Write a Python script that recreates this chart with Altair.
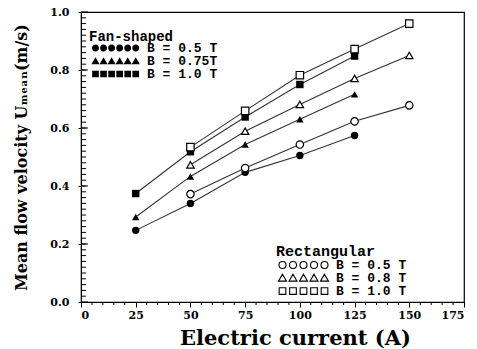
import altair as alt
import pandas as pd

current_fan = [25, 50, 75, 100, 125]
current_rect = [50, 75, 100, 125, 150]
fan_labels = ["B = 0.5 T", "B = 0.75T", "B = 1.0 T"]
rect_labels = ["B = 0.5 T", "B = 0.8 T", "B = 1.0 T"]
fan_05 = [0.247, 0.340, 0.447, 0.505, 0.574]
fan_075 = [0.293, 0.433, 0.543, 0.630, 0.716]
fan_10 = [0.374, 0.518, 0.638, 0.750, 0.848]
rect_05 = [0.372, 0.462, 0.543, 0.623, 0.678]
rect_08 = [0.473, 0.589, 0.681, 0.771, 0.850]
rect_10 = [0.534, 0.659, 0.782, 0.872, 0.960]
x_ticks = [0, 25, 50, 75, 100, 125, 150, 175]
y_ticks = [0.0, 0.2, 0.4, 0.6, 0.8, 1.0]
x_minor = [v for v in range(0, 180, 5) if v % 25 != 0]
y_minor = [i / 50 for i in range(1, 50)]

fan_df = pd.DataFrame(
    [(c, v, lab) for lab, vals in zip(fan_labels, [fan_05, fan_075, fan_10])
     for c, v in zip(current_fan, vals)],
    columns=["current", "velocity", "fan"],
)
rect_df = pd.DataFrame(
    [(c, v, lab) for lab, vals in zip(rect_labels, [rect_05, rect_08, rect_10])
     for c, v in zip(current_rect, vals)],
    columns=["current", "velocity", "rect"],
)
xminor_df = pd.DataFrame({"current": x_minor})
yminor_df = pd.DataFrame({"velocity": y_minor})
ymajor_df = pd.DataFrame({"velocity": y_ticks})

W, H = 383, 290


def row_path(kind, n, step):
    parts = []
    for i in range(n):
        cx = i * step
        if kind == "circle":
            parts.append(f"M{cx-1},0 a1,1 0 1,0 2,0 a1,1 0 1,0 -2,0 Z")
        elif kind == "triangle":
            parts.append(f"M{cx},-1.1 L{cx+1.15},0.9 L{cx-1.15},0.9 Z")
        else:
            parts.append(f"M{cx-0.95},-0.95 L{cx+0.95},-0.95 L{cx+0.95},0.95 L{cx-0.95},0.95 Z")
    return " ".join(parts)


fan_rows = [row_path("circle", 6, 2.3), row_path("triangle", 6, 2.3), row_path("square", 6, 2.3)]
rect_rows = [row_path("circle", 5, 3.0), row_path("triangle", 5, 3.0), row_path("square", 5, 3.0)]

xscale = alt.Scale(domain=[0, 175], nice=False, zero=False)
yscale = alt.Scale(domain=[0, 1.0], nice=False, zero=False)
SERIF = "DejaVu Serif"
MONO = "Liberation Mono"

x_axis = alt.Axis(
    values=x_ticks, orient="bottom", tickSize=5, tickColor="black", domainColor="black",
    labelFont=SERIF, labelFontWeight="bold", labelFontSize=11, labelColor="black",
    labelPadding=2, grid=False, title="Electric current (A)", titleFont=SERIF,
    titleFontSize=21, titleFontWeight="bold", titleColor="black", titlePadding=7,
    titleX=214)
y_axis = alt.Axis(
    values=y_ticks, format=".1f", orient="left", tickSize=3, tickColor="black",
    domainColor="black", labelFont=SERIF, labelFontWeight="bold", labelFontSize=11,
    labelColor="black", labelPadding=9, grid=False,
    title="Mean flow velocity Uₘₑₐₙ(m/s)", titleFont=SERIF, titleFontSize=16,
    titleFontWeight="bold", titleColor="black", titlePadding=20)
X = alt.X("current:Q", scale=xscale, axis=x_axis)
Y = alt.Y("velocity:Q", scale=yscale, axis=y_axis)

x_minor_ticks = alt.Chart(xminor_df).mark_rule(color="black", strokeWidth=1).encode(
    x=X, y=alt.value(H), y2=alt.value(H + 3))
y_minor_ticks = alt.Chart(yminor_df).mark_rule(color="black", strokeWidth=1).encode(
    y=Y, x=alt.value(0), x2=alt.value(5))
y_major_ticks = alt.Chart(ymajor_df).mark_rule(color="black", strokeWidth=1).encode(
    y=Y, x=alt.value(0), x2=alt.value(7))

fan_lines = alt.Chart(fan_df).mark_line(color="#333", strokeWidth=1.1).encode(
    x=X, y=Y, detail="fan:N")
rect_lines = alt.Chart(rect_df).mark_line(color="#333", strokeWidth=1.1).encode(
    x=X, y=Y, detail="rect:N")

fan_pts = alt.Chart(fan_df).mark_point(filled=True, color="black", size=55, opacity=1).encode(
    x=X, y=Y,
    shape=alt.Shape("fan:N", scale=alt.Scale(domain=fan_labels, range=["circle", "triangle-up", "square"]), legend=None))
rect_pts = alt.Chart(rect_df).mark_point(filled=True, fill="white", stroke="black", strokeWidth=1.2, size=55, opacity=1).encode(
    x=X, y=Y,
    shape=alt.Shape("rect:N", scale=alt.Scale(domain=rect_labels, range=["circle", "triangle-up", "square"]), legend=None))

fan_leg = alt.Chart(fan_df).transform_filter("datum.velocity < 0").mark_point(
    filled=True, color="black", opacity=1).encode(
    x=X, y=Y,
    shape=alt.Shape("fan:N", scale=alt.Scale(domain=fan_labels, range=fan_rows), legend=alt.Legend(
        title="Fan-shaped", orient="none", legendX=8, legendY=18, symbolSize=49,
        symbolFillColor="black", symbolStrokeColor="black", symbolOpacity=1,
        labelFont=MONO, labelFontWeight="bold", labelFontSize=13, labelColor="black",
        labelOffset=45, titleFont=MONO, titleFontWeight="bold", titleFontSize=14,
        titleColor="black", rowPadding=0, clipHeight=12, padding=0, titlePadding=-2)))
rect_leg = alt.Chart(rect_df).transform_filter("datum.velocity < 0").mark_point(
    filled=False, color="black", strokeWidth=1.1, opacity=1).encode(
    x=X, y=Y,
    shape=alt.Shape("rect:N", scale=alt.Scale(domain=rect_labels, range=rect_rows), legend=alt.Legend(
        title="Rectangular", orient="none", legendX=195, legendY=232, symbolSize=49,
        symbolStrokeColor="black", symbolOpacity=1, symbolStrokeWidth=1.1,
        labelFont=MONO, labelFontWeight="bold", labelFontSize=13, labelColor="black",
        labelOffset=47, titleFont=MONO, titleFontWeight="bold", titleFontSize=15,
        titleColor="black", rowPadding=0, clipHeight=12, padding=0, titlePadding=0)))

chart = alt.layer(
    x_minor_ticks, y_minor_ticks, y_major_ticks,
    fan_lines, rect_lines, fan_pts, rect_pts, fan_leg, rect_leg
).resolve_scale(shape="independent").properties(
    width=W, height=H,
    autosize=alt.AutoSizeParams(type="none"),
    padding={"left": 81, "top": 12, "right": 13, "bottom": 47},
    background="white",
).configure_view(stroke="black", strokeWidth=1.2)

chart.save("out.html", embed_options={"renderer": "svg", "actions": False})
